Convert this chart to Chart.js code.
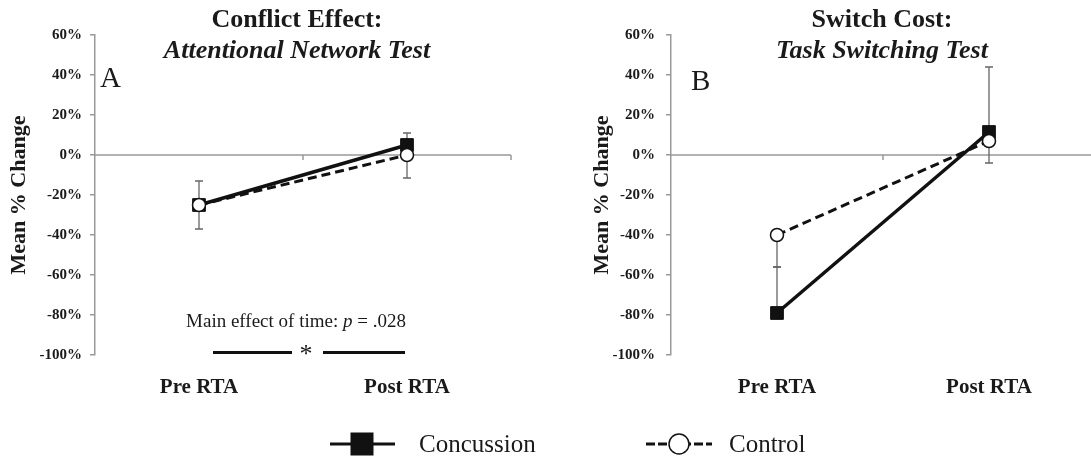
<!DOCTYPE html>
<html>
<head>
<meta charset="utf-8">
<script src="https://cdn.jsdelivr.net/npm/chart.js@4.4.1/dist/chart.umd.min.js"></script>
<style>
  body { margin: 0; width: 1091px; height: 459px; overflow: hidden; background: #fff; position: relative;
         font-family: "Liberation Serif", "Times New Roman", serif; color: #1a1a1a; }
  .abs { position: absolute; }
  .title { font-size: 26px; font-weight: bold; line-height: 31px; text-align: center; width: 400px; }
  .title i { display: block; }
  .panel { font-size: 29px; line-height: 29px; }
  .note { font-size: 19px; line-height: 19px; width: 300px; text-align: center; }
  .star { font-size: 26px; line-height: 26px; width: 40px; text-align: center; }
  .bar { height: 3px; background: #111; }
  .leg { font-size: 25px; line-height: 25px; }
</style>
</head>
<body>
<div class="abs" style="left:0;top:0;width:545px;height:400px"><canvas id="chartA"></canvas></div>
<div class="abs" style="left:583px;top:0;width:522px;height:400px"><canvas id="chartB"></canvas></div>

<div class="abs title" style="left:97px;top:3px">Conflict Effect:<i>Attentional Network Test</i></div>
<div class="abs title" style="left:682px;top:3px">Switch Cost:<i>Task Switching Test</i></div>
<div class="abs panel" style="left:100px;top:63px">A</div>
<div class="abs panel" style="left:691px;top:66px">B</div>

<div class="abs note" style="left:146px;top:311px">Main effect of time: <i>p</i> = .028</div>
<div class="abs bar" style="left:213px;top:351px;width:79px"></div>
<div class="abs star" style="left:286px;top:341px">*</div>
<div class="abs bar" style="left:323px;top:351px;width:82px"></div>

<svg class="abs" style="left:0;top:0" width="1091" height="459">
  <line x1="330" y1="444" x2="395" y2="444" stroke="#111" stroke-width="3"/>
  <rect x="350.5" y="432.5" width="23" height="23" fill="#111"/>
  <line x1="646" y1="444" x2="712" y2="444" stroke="#111" stroke-width="3" stroke-dasharray="9,3"/>
  <circle cx="679" cy="444" r="10" fill="#fff" stroke="#111" stroke-width="1.5"/>
</svg>
<div class="abs leg" style="left:419px;top:431px">Concussion</div>
<div class="abs leg" style="left:729px;top:431px">Control</div>

<script>
// time points and y axis
const timePoints = ['Pre RTA', 'Post RTA'];
const yMin = -100;
const yMax = 60;
const yStep = 20;

// Panel A - conflict effect (mean % change), error bars: concussion up, control down
const conflictConcussion = [-25, 5];
const conflictConcussionErr = [12, 6];
const conflictControl = [-25, 0];
const conflictControlErr = [12, 11.5];

// Panel B - switch cost
const switchConcussion = [-79, 11.5];
const switchConcussionErr = [23, 32.5];
const switchControl = [-40, 7];
const switchControlErr = [16, 11];

const serif = '"Liberation Serif", "Times New Roman", serif';
const grey = '#999';

// zero line with little ticks between the categories, plus the error bars
const zeroAndErrors = {
  id: 'zeroAndErrors',
  beforeDatasetsDraw(chart, args, opts) {
    const ctx = chart.ctx;
    const x = chart.scales.x;
    const y = chart.scales.y;
    const area = chart.chartArea;
    const y0 = y.getPixelForValue(0);
    ctx.save();
    ctx.strokeStyle = grey;
    ctx.lineWidth = 1.5;
    ctx.beginPath();
    ctx.moveTo(area.left, y0);
    ctx.lineTo(opts.extend ? chart.width : area.right, y0);
    for (let i = 0; i < timePoints.length; i++) {
      const tx = x.getPixelForValue(i + 0.5);
      ctx.moveTo(tx, y0);
      ctx.lineTo(tx, y0 + 5);
    }
    ctx.stroke();

    ctx.strokeStyle = '#666';
    ctx.lineWidth = 1.3;
    chart.data.datasets.forEach((ds, di) => {
      const meta = chart.getDatasetMeta(di);
      ds.data.forEach((v, i) => {
        const px = meta.data[i].x;
        const end = v + ds.errDir * ds.err[i];
        const p1 = y.getPixelForValue(v);
        const p2 = y.getPixelForValue(end);
        ctx.beginPath();
        ctx.moveTo(px, p1);
        ctx.lineTo(px, p2);
        ctx.moveTo(px - 4, p2);
        ctx.lineTo(px + 4, p2);
        ctx.stroke();
      });
    });
    ctx.restore();
  }
};

function makeChart(id, concussion, concussionErr, control, controlErr, yWidth, tickPad, rightPad, extend) {
  return new Chart(document.getElementById(id), {
    type: 'line',
    data: {
      labels: timePoints,
      datasets: [
        {
          label: 'Concussion',
          data: concussion,
          err: concussionErr,
          errDir: 1,
          borderColor: '#111',
          backgroundColor: '#111',
          borderWidth: 3.5,
          pointStyle: 'rect',
          pointRadius: 9,
          pointBorderWidth: 1,
          pointBorderColor: '#111',
          pointBackgroundColor: '#111',
          order: 2
        },
        {
          label: 'Control',
          data: control,
          err: controlErr,
          errDir: -1,
          borderColor: '#111',
          borderWidth: 3,
          borderDash: [9, 5],
          pointStyle: 'circle',
          pointRadius: 6.5,
          pointBorderWidth: 1.5,
          pointBorderColor: '#111',
          pointBackgroundColor: '#fff',
          order: 1
        }
      ]
    },
    options: {
      responsive: true,
      maintainAspectRatio: false,
      animation: false,
      layout: { padding: { top: 35, right: rightPad, left: 0, bottom: 0 } },
      plugins: {
        legend: { display: false },
        tooltip: { enabled: false },
        zeroAndErrors: { extend: extend }
      },
      scales: {
        x: {
          type: 'category',
          offset: true,
          grid: { display: false, drawTicks: false },
          border: { display: false },
          ticks: { color: '#1a1a1a', padding: 20, font: { family: serif, size: 21, weight: 'bold' } },
          afterFit: s => { s.height = 45; }
        },
        y: {
          min: yMin,
          max: yMax,
          grid: { drawOnChartArea: false, drawTicks: true, tickLength: 5, color: grey, lineWidth: 1.5 },
          border: { display: true, color: grey, width: 1.5 },
          ticks: {
            stepSize: yStep,
            padding: tickPad,
            color: '#1a1a1a',
            font: { family: serif, size: 15, weight: 'bold' },
            callback: v => v + '%'
          },
          title: {
            display: true,
            text: 'Mean % Change',
            color: '#1a1a1a',
            padding: { top: 6, bottom: 0 },
            font: { family: serif, size: 22, weight: 'bold' }
          },
          afterFit: s => { s.width = yWidth; }
        }
      }
    },
    plugins: [zeroAndErrors]
  });
}

makeChart('chartA', conflictConcussion, conflictConcussionErr, conflictControl, conflictControlErr, 95, 8, 34, false);
makeChart('chartB', switchConcussion, switchConcussionErr, switchControl, switchControlErr, 88, 11, 0, true);
</script>
</body>
</html>
